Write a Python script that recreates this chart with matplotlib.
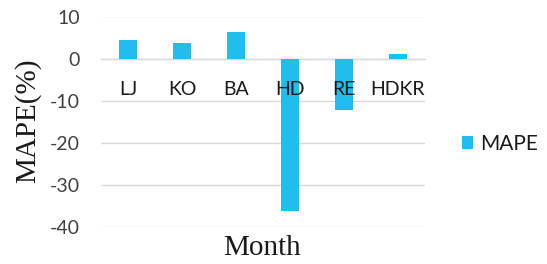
import matplotlib
matplotlib.use("Agg")
import matplotlib.pyplot as plt

categories = ["LJ", "KO", "BA", "HD", "RE", "HDKR"]
mape = [4.3, 3.7, 6.2, -36.2, -12.1, 1.0]
yticks = [10, 0, -10, -20, -30, -40]

bar_color = "#21BDEE"
text_color = "#404040"

fig = plt.figure(figsize=(5.47, 2.64), dpi=100)
ax = fig.add_axes([101/547, 1-227/264, 324/547, (227-16.5)/264])

x = list(range(len(categories)))
bars = ax.bar(x, mape, width=0.32, color=bar_color, zorder=3, label="MAPE")

ax.set_xlim(-0.5, len(categories) - 0.5)
ax.set_ylim(-40, 10)
ax.set_yticks(yticks)
ax.set_yticklabels([str(v) for v in yticks])
ax.yaxis.grid(True, color="#d9d9d9", linewidth=1.0)
ax.yaxis.set_zorder(0.5)
ax.xaxis.set_zorder(5)

for s in ["top", "right", "left"]:
    ax.spines[s].set_visible(False)
ax.spines["bottom"].set_position(("data", 0))
ax.spines["bottom"].set_color("#d9d9d9")
ax.spines["bottom"].set_linewidth(1.0)
ax.spines["bottom"].set_zorder(0.6)

ax.set_xticks(x)
ax.set_xticklabels(categories)
ax.tick_params(axis="x", length=0, pad=16, labelsize=14, labelcolor="#1a1a1a")
ax.tick_params(axis="y", length=0, pad=15, labelsize=14, labelcolor=text_color)
for lab in ax.get_xticklabels() + ax.get_yticklabels():
    lab.set_family("Lato")

fig.text(262/547, 1-248/264, "Month", family="Liberation Serif", fontsize=21,
         ha="center", va="center", color="#1a1a1a")
fig.text(28/547, 1-121/264, "MAPE(%)", family="Liberation Serif", fontsize=21,
         ha="center", va="center", rotation=90, color="#1a1a1a")

leg = fig.legend(handles=[bars], labels=["MAPE"], loc="center left",
                 bbox_to_anchor=(462/547, 1-144/264), frameon=False,
                 prop={"family": "Lato", "size": 15}, handlelength=0.55,
                 handleheight=0.55, handletextpad=0.3, borderpad=0, borderaxespad=0)
for t in leg.get_texts():
    t.set_color("#1a1a1a")

fig.savefig("out.png", dpi=100)
